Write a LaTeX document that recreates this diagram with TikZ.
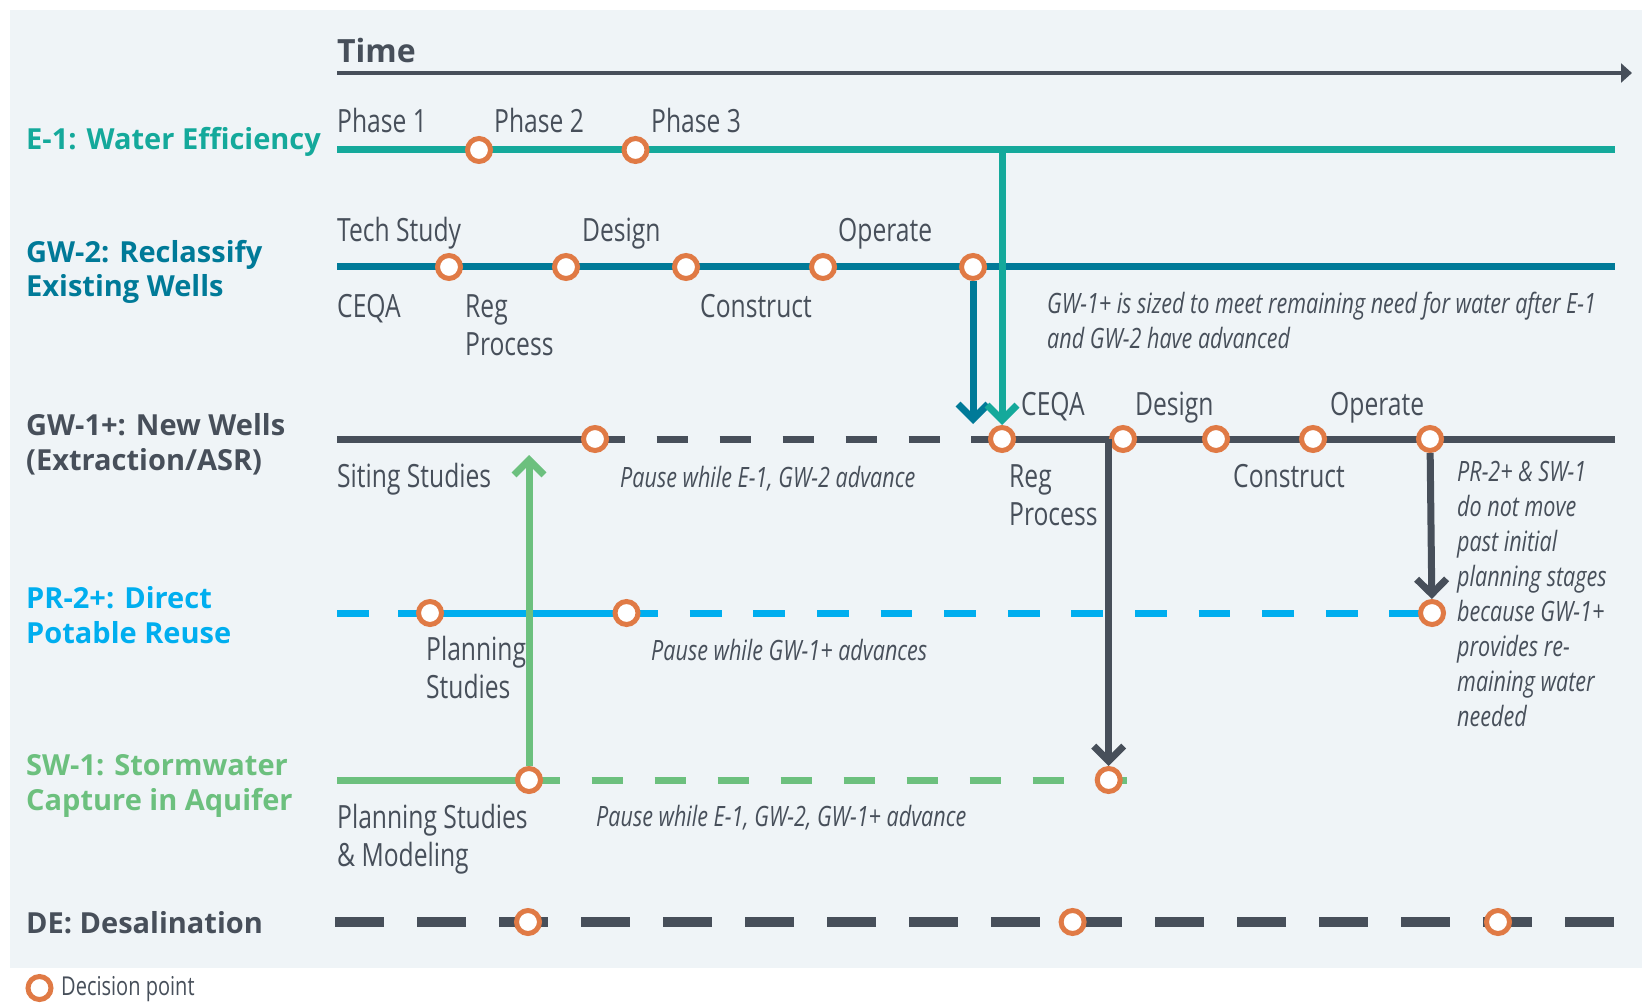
\documentclass[tikz,border=0pt]{standalone}
\usepackage{fontspec}
\setmainfont{Open Sans}[FakeStretch=0.77]
\newfontfamily\trackfont{Open Sans}
\usepackage{tikz}
\usetikzlibrary{arrows.meta}

\definecolor{panel}{HTML}{EFF4F7}
\definecolor{effteal}{HTML}{14A99B}
\definecolor{reclblue}{HTML}{007A98}
\definecolor{wellgray}{HTML}{474F5A}
\definecolor{reuseblue}{HTML}{00AEEF}
\definecolor{stormgreen}{HTML}{6CC07E}
\definecolor{decorange}{HTML}{E07A45}

\tikzset{
    track/.style={line width=7pt},
    paused/.style={line width=7pt, dash pattern=on 31.5pt off 31.5pt, dash phase=31.5pt},
    desal/.style={line width=10.5pt, dash pattern=on 49pt off 33pt},
    decision/.style={circle, draw=decorange, line width=5pt, fill=white,
        minimum size=23pt, inner sep=0pt},
    advance/.style={line width=7pt, -{Straight Barb[length=15pt, width=30pt]}},
    stage/.style={anchor=base west, inner sep=0pt, text=wellgray, align=left,
        font=\fontsize{32}{38}\selectfont},
    note/.style={stage, font=\fontsize{28}{35}\selectfont\itshape},
    trackname/.style={anchor=base west, inner sep=0pt, align=left,
        font=\trackfont\bfseries\fontsize{29}{35}\selectfont},
}

\begin{document}
\begin{tikzpicture}[x=1pt, y=-1pt]
        \useasboundingbox (0,0) rectangle (1642,1003);
        \fill[white] (0,0) rectangle (1642,1003);
        \fill[panel] (9.5,10) rectangle (1642,968);

        \node (time) at(337,63) [trackname, text=wellgray, font=\trackfont\bfseries\fontsize{32}{38}\selectfont] {Time};
        \coordinate (axisstart) at(337,73);
        \coordinate (axisend) at(1632,73);
        \draw[line width=3.5pt, wellgray, -{Triangle[length=11pt, width=19pt]}] (axisstart) -- (axisend);

        \coordinate (e1start) at(337,150);
        \coordinate (e1drop) at(1002,150);
        \coordinate (e1end) at(1615,150);
        \draw[track, effteal] (e1start) -- (e1end);

        \coordinate (gw2start) at(337,267);
        \coordinate (gw2end) at(1615,267);
        \draw[track, reclblue] (gw2start) -- (gw2end);

        \coordinate (gw1start) at(337,439);
        \coordinate (gw1pause) at(625,439);
        \coordinate (gw1resume) at(971,439);
        \coordinate (gw1drop) at(1108.7,439);
        \coordinate (gw1end) at(1615,439);
        \draw[track, wellgray] (gw1start) -- (gw1pause);
        \draw[paused, wellgray] (gw1pause) -- (gw1resume);
        \draw[track, wellgray] (gw1resume) -- (gw1end);

        \coordinate (pr2start) at(337,613);
        \coordinate (pr2go) at(398,613);
        \coordinate (pr2pause) at(658,613);
        \coordinate (pr2end) at(1422,613);
        \draw[paused, dash phase=0pt, reuseblue] (pr2start) -- (pr2go);
        \draw[track, reuseblue] (pr2go) -- (pr2pause);
        \draw[paused, dash pattern=on 31.8pt off 31.8pt, dash phase=31.8pt, reuseblue] (pr2pause) -- (pr2end);

        \coordinate (sw1start) at(337,780);
        \coordinate (sw1pause) at(560,780);
        \coordinate (sw1end) at(1128,780);
        \coordinate (sw1rise) at(529,455);
        \draw[track, stormgreen] (sw1start) -- (sw1pause);
        \draw[paused, stormgreen] (sw1pause) -- (sw1end);

        \coordinate (destart) at(335,922);
        \coordinate (deend) at(1614,922);
        \draw[desal, wellgray] (destart) -- (deend);

        \node (e1p1) at(479,150) [decision] {};
        \node (e1p2) at(635.5,150) [decision] {};
        \node (gw2p1) at(449,267) [decision] {};
        \node (gw2p2) at(566,267) [decision] {};
        \node (gw2p3) at(686,267) [decision] {};
        \node (gw2p4) at(823,267) [decision] {};
        \node (gw2p5) at(973,267) [decision] {};
        \node (gw1p1) at(595,439) [decision] {};
        \node (gw1p2) at(1002,439) [decision] {};
        \node (gw1p3) at(1123,439) [decision] {};
        \node (gw1p4) at(1216,439) [decision] {};
        \node (gw1p5) at(1313,439) [decision] {};
        \node (gw1p6) at(1430,439) [decision] {};
        \node (pr2p1) at(430,613) [decision] {};
        \node (pr2p2) at(626.5,613) [decision] {};
        \node (pr2p3) at(1432,613) [decision] {};
        \node (sw1p1) at(529,780) [decision] {};
        \node (sw1p2) at(1108.7,780) [decision] {};
        \node (dep1) at(528,922) [decision] {};
        \node (dep2) at(1072.6,922) [decision] {};
        \node (dep3) at(1498,922) [decision] {};

        \coordinate (gw2land) at(973,424);
        \draw[advance, reclblue] (gw2p5) -- (gw2land);
        \draw[advance, effteal] (e1drop) -- (gw1p2);
        \draw[advance, wellgray] (gw1drop) -- (sw1p2);
        \draw[advance, wellgray] (gw1p6) -- (pr2p3);
        \draw[advance, stormgreen] (sw1p1) -- (sw1rise);

        \node (e1name) at(26,150) [trackname, text=effteal] {E-1: Water Efficiency};
        \node (gw2name) at(26,297) [trackname, text=reclblue] {GW-2: Reclassify\\Existing Wells};
        \node (gw1name) at(26,470) [trackname, text=wellgray] {GW-1+: New Wells\\(Extraction/ASR)};
        \node (pr2name) at(26,643) [trackname, text=reuseblue] {PR-2+: Direct\\Potable Reuse};
        \node (sw1name) at(26,810) [trackname, text=stormgreen] {SW-1: Stormwater\\Capture in Aquifer};
        \node (dename) at(26,933) [trackname, text=wellgray] {DE: Desalination};

        \node (phase1) at(337,133) [stage] {Phase 1};
        \node (phase2) at(494,133) [stage] {Phase 2};
        \node (phase3) at(651,133) [stage] {Phase 3};

        \node (gw2tech) at(337,242) [stage] {Tech Study};
        \node (gw2design) at(582,242) [stage] {Design};
        \node (gw2operate) at(838,242) [stage] {Operate};
        \node (gw2ceqa) at(337,317) [stage] {CEQA};
        \node (gw2reg) at(465,355) [stage] {Reg\\Process};
        \node (gw2construct) at(700,317) [stage] {Construct};
        \node (gw2note) at(1047,348) [note] {GW-1+ is sized to meet remaining need for water after E-1\\and GW-2 have advanced};

        \node (gw1ceqa) at(1021,415) [stage] {CEQA};
        \node (gw1design) at(1135,415) [stage] {Design};
        \node (gw1operate) at(1330,415) [stage] {Operate};
        \node (gw1siting) at(337,487) [stage] {Siting Studies};
        \node (gw1wait) at(620,487) [note] {Pause while E-1, GW-2 advance};
        \node (gw1reg) at(1009,525) [stage] {Reg\\Process};
        \node (gw1construct) at(1233,487) [stage] {Construct};
        \node (gw1note) at(1457,726) [note] {PR-2+ \& SW-1\\do not move\\past initial\\planning stages\\because GW-1+\\provides re-\\maining water\\needed};

        \node (pr2plan) at(426,698) [stage] {Planning\\Studies};
        \node (pr2wait) at(651,660) [note] {Pause while GW-1+ advances};

        \node (sw1plan) at(337,866) [stage] {Planning Studies\\\& Modeling};
        \node (sw1wait) at(596,826) [note] {Pause while E-1, GW-2, GW-1+ advance};

        \node (legendmark) at(39.5,988) [decision] {};
        \node (legendtext) at(61,995) [stage, font=\fontsize{26}{30}\selectfont] {Decision point};
    \end{tikzpicture}
\end{document}
